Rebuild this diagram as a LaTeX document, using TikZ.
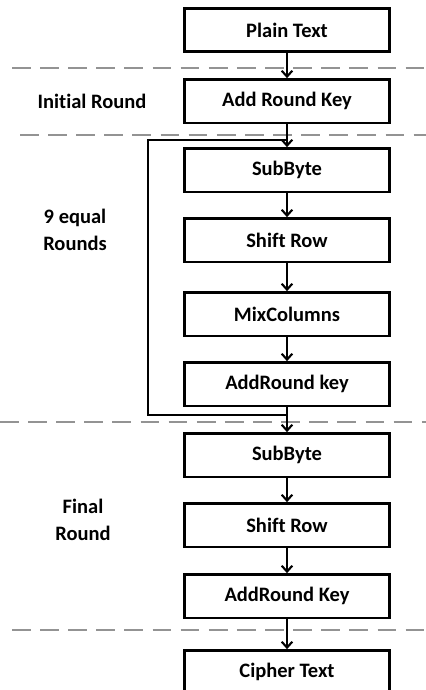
\documentclass[tikz,border=0pt]{standalone}
\usepackage{fontspec}
\setmainfont[Ligatures=NoCommon]{Carlito}
\usetikzlibrary{arrows.meta,positioning}

\begin{document}
\begin{tikzpicture}[x=0.03cm,y=-0.03cm,
			font=\fontsize{17.5}{23}\selectfont\bfseries,
			box/.style={draw,line width=2pt,minimum width=6.15cm,minimum height=1.3cm,inner sep=0pt},
			lbl/.style={align=center},
			arr/.style={line width=1.8pt,-{Straight Barb[length=5pt,width=9pt,line width=1.8pt]}},
			loop/.style={line width=1.8pt},
			sep/.style={draw=gray!85,line width=1.8pt,dash pattern=on 16pt off 8pt}]
			\useasboundingbox (0,0) rectangle (426,690);
			% round separators
			\draw[sep] (12,68) -- (426,68);
			\draw[sep] (20,135) -- (426,135);
			\draw[sep] (0,422) -- (426,422);
			\draw[sep] (12,630) -- (426,630);
			% stages
			\node [box] (plain) at (287,30) {Plain Text};
			\node [box] (ark) at (287,101) {Add Round Key};
			\node [box] (sb) at (287,170) {SubByte};
			\node [box] (sr) at (287,240) {Shift Row};
			\node [box] (mc) at (287,314) {MixColumns};
			\node [box] (ark9) at (287,384) {AddRound key};
			\node [box] (sbf) at (287,455) {SubByte};
			\node [box] (srf) at (287,525) {Shift Row};
			\node [box] (arkf) at (287,596) {AddRound Key};
			\node [box] (cipher) at (287,672) {Cipher Text};
			% round names
			\node [lbl] (initial) at (92,101) {Initial Round};
			\node [lbl] (equal) at (75,230) {9 equal\\Rounds};
			\node [lbl] (final) at (83,520) {Final\\Round};
			% flow
			\draw[arr] (plain) -- (ark);
			\draw[arr] (ark) -- (sb);
			\draw[arr] (sb) -- (sr);
			\draw[arr] (sr) -- (mc);
			\draw[arr] (mc) -- (ark9);
			\draw[arr] (ark9) -- (sbf);
			\draw[arr] (sbf) -- (srf);
			\draw[arr] (srf) -- (arkf);
			\draw[arr] (arkf) -- (cipher);
			% repeat loop
			\coordinate (looptop) at (148,140);
			\draw[loop] (ark9.south) -- ++(0,8) -| (looptop) -- (looptop -| sb.north);
		\end{tikzpicture}
\end{document}
